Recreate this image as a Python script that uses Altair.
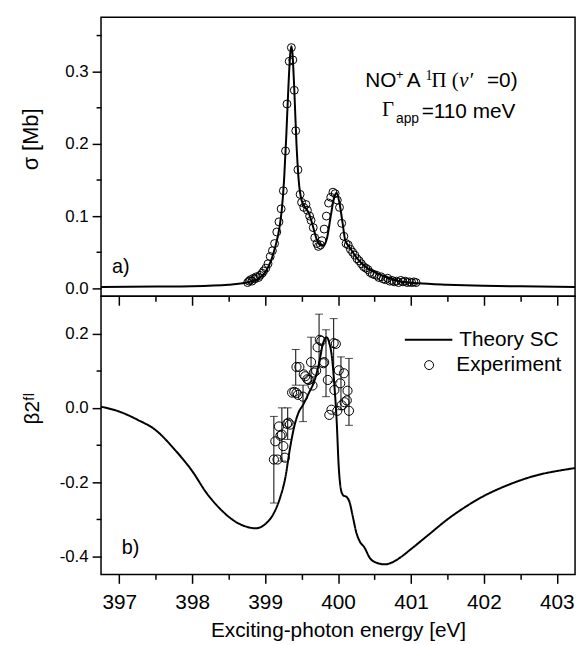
import altair as alt
import pandas as pd

FONT = "Liberation Sans"
SERIF = "Liberation Serif"

# ---------------- panel a) : cross section ----------------
theory_a_E = [396.75, 397.5, 398.0, 398.5, 398.75, 398.9, 399.0, 399.08, 399.14, 399.19,
              399.23, 399.26, 399.29, 399.32, 399.345, 399.36, 399.375, 399.4, 399.43, 399.46,
              399.5, 399.55, 399.6, 399.65, 399.7, 399.75, 399.8, 399.85, 399.9, 399.95,
              399.98, 400.02, 400.06, 400.1, 400.15, 400.25, 400.4, 400.55, 400.7, 400.85,
              401.1, 401.5, 402.0, 402.5, 403.25]
theory_a_sigma = [0.002, 0.0025, 0.003, 0.005, 0.008, 0.013, 0.022, 0.038, 0.058, 0.08,
                  0.11, 0.15, 0.21, 0.28, 0.325, 0.335, 0.325, 0.275, 0.2, 0.15,
                  0.122, 0.112, 0.104, 0.088, 0.07, 0.06, 0.059, 0.07, 0.1, 0.127,
                  0.132, 0.118, 0.092, 0.066, 0.058, 0.043, 0.028, 0.02, 0.014, 0.0095,
                  0.007, 0.005, 0.0035, 0.0028, 0.002]

exp_a_E = [398.76, 398.78, 398.80, 398.82, 398.84, 398.86, 398.88, 398.91, 398.93, 398.96,
           398.98, 399.01, 399.04, 399.07, 399.10, 399.13, 399.16, 399.19, 399.22, 399.25,
           399.28, 399.30, 399.33, 399.36, 399.38, 399.40, 399.42, 399.45, 399.48, 399.50,
           399.53, 399.56, 399.58, 399.61, 399.63, 399.66, 399.68, 399.71, 399.73, 399.76,
           399.78, 399.81, 399.84, 399.87, 399.90, 399.93, 399.96, 399.99, 400.02, 400.05,
           400.08, 400.11, 400.14, 400.17, 400.20, 400.23, 400.26, 400.29, 400.32, 400.35,
           400.38, 400.41, 400.44, 400.47, 400.50, 400.53, 400.56, 400.59, 400.62, 400.65,
           400.68, 400.71, 400.74, 400.77, 400.80, 400.83, 400.86, 400.89, 400.92, 400.95,
           400.98, 401.01, 401.04, 401.07]
exp_a_sigma = [0.008, 0.010, 0.012, 0.010, 0.014, 0.013, 0.016, 0.015, 0.018, 0.021,
               0.024, 0.028, 0.034, 0.044, 0.052, 0.062, 0.078, 0.092, 0.110, 0.135,
               0.190, 0.255, 0.314, 0.333, 0.316, 0.274, 0.218, 0.164, 0.130, 0.119,
               0.112, 0.116, 0.108, 0.100, 0.094, 0.084, 0.070, 0.062, 0.058, 0.060,
               0.066, 0.082, 0.100, 0.118, 0.126, 0.133, 0.131, 0.122, 0.112, 0.090,
               0.072, 0.062, 0.060, 0.054, 0.050, 0.046, 0.041, 0.038, 0.034, 0.030,
               0.028, 0.026, 0.022, 0.020, 0.019, 0.018, 0.015, 0.016, 0.013, 0.012,
               0.014, 0.010, 0.011, 0.009, 0.010, 0.008, 0.011, 0.009, 0.010, 0.008,
               0.009, 0.008, 0.009, 0.008]

# ---------------- panel b) : beta2 ----------------
theory_b_E = [396.75, 397.0, 397.25, 397.5, 397.75, 398.0, 398.2, 398.4, 398.6, 398.75,
              398.87, 399.0, 399.1, 399.2, 399.28, 399.34, 399.4, 399.46, 399.52, 399.6,
              399.68, 399.74, 399.79, 399.84, 399.88, 399.92, 399.95, 399.98, 400.01, 400.04,
              400.07, 400.12, 400.16, 400.2, 400.25, 400.3, 400.36, 400.44, 400.52, 400.64,
              400.75, 400.85, 401.0, 401.25, 401.5, 401.75, 402.0, 402.25, 402.5, 402.75,
              403.0, 403.25]
theory_b_beta = [0.003, -0.01, -0.032, -0.06, -0.11, -0.17, -0.23, -0.275, -0.307, -0.32,
                 -0.324, -0.313, -0.29, -0.245, -0.185, -0.11, -0.05, -0.012, 0.008, 0.04,
                 0.075, 0.12, 0.17, 0.19, 0.175, 0.13, 0.06, -0.03, -0.16, -0.22,
                 -0.235, -0.24, -0.255, -0.29, -0.335, -0.36, -0.375, -0.405, -0.416, -0.421,
                 -0.415, -0.403, -0.38, -0.34, -0.3, -0.266, -0.237, -0.214, -0.195, -0.18,
                 -0.17, -0.162]

exp_b_E = [399.12, 399.14, 399.17, 399.19, 399.21, 399.23, 399.25, 399.27, 399.30, 399.32,
           399.34, 399.37, 399.40, 399.43, 399.43, 399.45, 399.47, 399.52, 399.53, 399.55,
           399.58, 399.60, 399.63, 399.65, 399.67, 399.70, 399.72, 399.75, 399.77, 399.80,
           399.81, 399.86, 399.88, 399.91, 399.94, 399.95, 399.97, 399.99, 400.01, 400.03,
           400.05, 400.08, 400.09, 400.12, 400.13, 400.15]
exp_b_beta = [-0.139, -0.09, -0.139, -0.05, -0.075, -0.072, -0.103, -0.134, -0.043, -0.04,
              -0.045, 0.041, 0.043, 0.040, 0.11, 0.035, 0.11, 0.03, 0.09, 0.085,
              0.077, 0.075, 0.123, 0.06, 0.095, 0.10, 0.163, 0.183, 0.18, 0.12,
              0.123, 0.075, -0.019, -0.005, 0.174, 0.048, 0.172, -0.008, 0.101, 0.066,
              0.007, 0.093, 0.015, 0.02, 0.046, -0.008]

err_E = [399.12, 399.23, 399.31, 399.42, 399.52, 399.63, 399.74, 399.835, 399.94, 400.04, 400.15]
err_lo = [-0.256, -0.143, -0.085, 0.061, -0.037, 0.066, 0.11, 0.03, 0.07, -0.005, -0.047]
err_hi = [-0.023, 0.0, 0.0, 0.157, 0.061, 0.19, 0.252, 0.21, 0.24, 0.137, 0.133]

x_ticks = [397.0, 397.5, 398.0, 398.5, 399.0, 399.5, 400.0, 400.5, 401.0, 401.5, 402.0, 402.5, 403.0]
ya_ticks = [0.0, 0.05, 0.1, 0.15, 0.2, 0.25, 0.3, 0.35]
yb_ticks = [-0.4, -0.3, -0.2, -0.1, 0.0, 0.1, 0.2]

df_ta = pd.DataFrame({"E": theory_a_E, "v": theory_a_sigma})
df_ea = pd.DataFrame({"E": exp_a_E, "v": exp_a_sigma})
df_tb = pd.DataFrame({"E": theory_b_E, "v": theory_b_beta, "series": "Theory SC"})
df_eb = pd.DataFrame({"E": exp_b_E, "v": exp_b_beta, "series": "Experiment"})
df_err = pd.DataFrame({"E": err_E, "lo": err_lo, "hi": err_hi})

W, HA, HB = 479, 282, 281

xscale = alt.Scale(domain=[396.75, 403.25], nice=False, zero=False)
ya_scale = alt.Scale(domain=[-0.011, 0.375], nice=False, zero=False)
yb_scale = alt.Scale(domain=[-0.448, 0.30], nice=False, zero=False)

MAJ_X = "datum.value % 1 == 0"
MAJ_YA = "abs(datum.value * 10 - round(datum.value * 10)) < 0.000001"
MAJ_YB = "abs(datum.value * 5 - round(datum.value * 5)) < 0.000001"
FMT = "replace(format(datum.value, '.1f'), '\u2212', '-')"


def tsize(test, big=9, small=5):
    return {"condition": {"test": test, "value": big}, "value": small}


def txt(s, px, py, size=21, font=FONT, style="normal"):
    return alt.Chart(pd.DataFrame({"t": [s]})).mark_text(
        font=font, fontSize=size, fontStyle=style, align="left",
        baseline="alphabetic", color="black"
    ).encode(x=alt.value(px), y=alt.value(py), text="t:N")


# ---- panel a
line_a = alt.Chart(df_ta).mark_line(color="black", strokeWidth=2, interpolate="monotone").encode(
    x=alt.X("E:Q", scale=xscale, axis=alt.Axis(
        orient="bottom", values=x_ticks, labels=False, title=None, minExtent=0,
        tickSize=tsize(MAJ_X), tickWidth=1.5)),
    y=alt.Y("v:Q", scale=ya_scale, axis=alt.Axis(
        orient="left", values=ya_ticks, labelExpr=f"{MAJ_YA} ? {FMT} : ''",
        tickSize=tsize(MAJ_YA), tickWidth=1.5, labelFontSize=17, labelPadding=4,
        title="\u03c3  [Mb]", titleFontSize=22, titleX=-64, titleY=123, minExtent=0,
        titleBaseline="alphabetic", titleAngle=270, titleAlign="center")),
)
pts_a = alt.Chart(df_ea).mark_point(filled=False, color="black", strokeWidth=1, size=64, opacity=1).encode(
    x=alt.X("E:Q", scale=xscale, axis=None),
    y=alt.Y("v:Q", scale=ya_scale, axis=None),
)
panel_a = alt.layer(
    line_a, pts_a,
    txt("NO", 267, 70), txt("+", 298, 62, size=13), txt("A", 309, 70),
    txt("1", 328, 63, size=14, font=SERIF), txt("\u03a0 (", 334, 70, font=SERIF),
    txt("v\u2032", 362, 70, font=SERIF, style="italic"), txt("=0)", 390, 70),
    txt("\u0393", 284, 100, font=SERIF), txt("app", 298, 107, size=14),
    txt("=110 meV", 324, 102),
    txt("a)", 11, 258, size=20),
).resolve_axis(x="independent", y="independent").properties(width=W, height=HA)

# ---- panel b
line_b = alt.Chart(df_tb).mark_line(color="black", strokeWidth=2, interpolate="monotone").encode(
    x=alt.X("E:Q", scale=xscale, axis=alt.Axis(
        orient="bottom", values=x_ticks,
        labelExpr=f"{MAJ_X} ? format(datum.value, 'd') : ''", minExtent=0,
        tickSize=tsize(MAJ_X), tickWidth=1.5, labelFontSize=21, labelPadding=8,
        title="Exciting-photon energy [eV]", titleFontSize=21, titlePadding=8)),
    y=alt.Y("v:Q", scale=yb_scale, axis=alt.Axis(
        orient="left", values=yb_ticks, labelExpr=f"{MAJ_YB} ? {FMT} : ''",
        tickSize=tsize(MAJ_YB), tickWidth=1.5, labelFontSize=17, labelPadding=4,
        title="\u03b22\u1da0\u02e1", titleFontSize=21, titleX=-63, titleY=113, minExtent=0,
        titleBaseline="alphabetic", titleAngle=270, titleAlign="center")),
    strokeDash=alt.StrokeDash("series:N", scale=alt.Scale(domain=["Theory SC"], range=[[1, 0]]),
                              legend=alt.Legend(orient="none", legendX=306, legendY=19, title=None,
                                                symbolType="stroke", symbolSize=2304,
                                                symbolStrokeWidth=2, symbolStrokeColor="black",
                                                labelFontSize=21, labelFont=FONT, labelOffset=6,
                                                padding=0)),
)
err_b = alt.Chart(df_err).mark_errorbar(ticks=True, size=8, thickness=1, color="black").encode(
    x=alt.X("E:Q", scale=xscale, axis=None),
    y=alt.Y("lo:Q", scale=yb_scale, axis=None),
    y2="hi:Q",
)
pts_b = alt.Chart(df_eb).mark_point(filled=False, color="black", strokeWidth=1, size=85, opacity=1).encode(
    x=alt.X("E:Q", scale=xscale, axis=None),
    y=alt.Y("v:Q", scale=yb_scale, axis=None),
    shape=alt.Shape("series:N", scale=alt.Scale(domain=["Experiment"], range=["circle"]),
                    legend=alt.Legend(orient="none", legendX=321, legendY=59, title=None,
                                      symbolSize=81, symbolStrokeWidth=1, symbolStrokeColor="black",
                                      symbolFillColor="white",
                                      labelFontSize=21, labelFont=FONT, labelOffset=17,
                                      padding=0)),
)
panel_b = alt.layer(
    line_b, err_b, pts_b, txt("b)", 21, 260, size=20),
).resolve_axis(x="independent", y="independent").properties(width=W, height=HB)

chart = alt.vconcat(panel_a, panel_b, spacing=0, bounds="flush").resolve_scale(
    strokeDash="independent", shape="independent"
).properties(
    padding={"left": 11, "top": 5, "right": 0, "bottom": 0}, background="white"
).configure_view(stroke="black", strokeWidth=1.5).configure_axis(
    labelFont=FONT, titleFont=FONT, labelColor="black", titleColor="black",
    tickColor="black", titleFontWeight="normal", domain=False, grid=False,
    labelFlush=False, labelOverlap=False
).configure_legend(labelColor="black")

chart.save("out.html", embed_options={"renderer": "svg", "actions": False})
